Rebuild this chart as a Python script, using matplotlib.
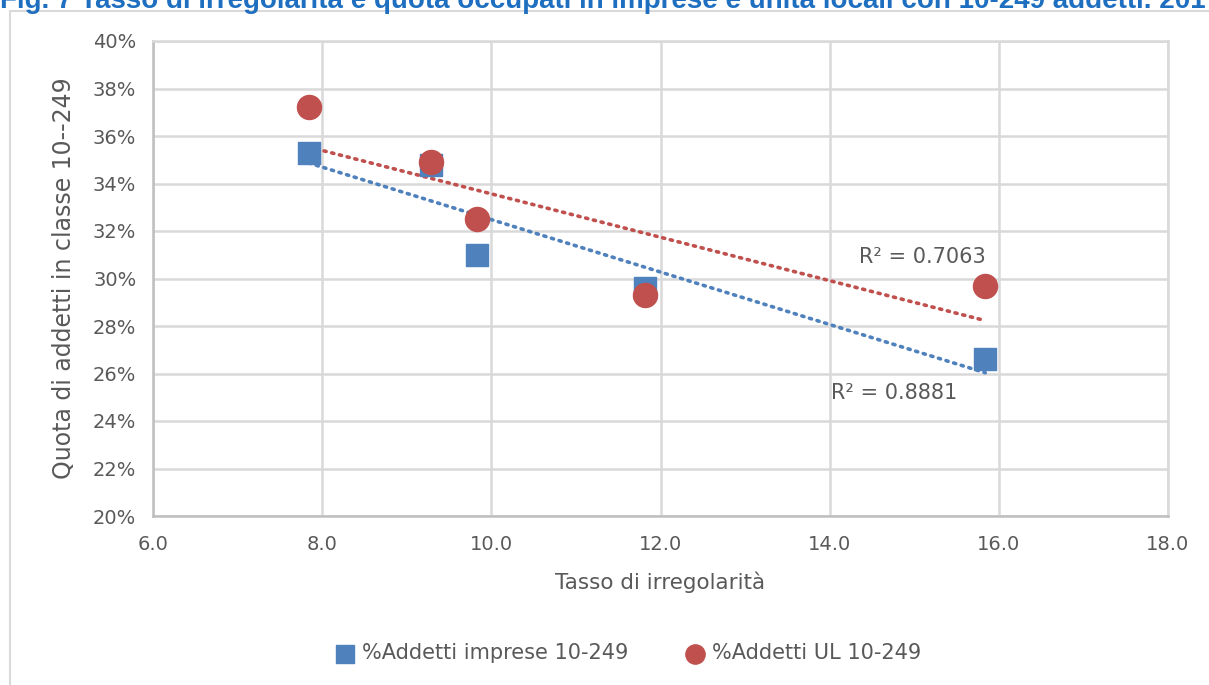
import matplotlib
matplotlib.use("Agg")
import matplotlib.pyplot as plt
import numpy as np
from matplotlib.patches import Rectangle
from matplotlib.ticker import FuncFormatter, MultipleLocator

# Data (x = tasso di irregolarità, y = quota %)
x_vals = [7.84, 9.29, 9.83, 11.82, 15.84]
imprese = [35.3, 34.8, 31.0, 29.6, 26.6]
ul = [37.2, 34.9, 32.5, 29.3, 29.7]
r2_labels = ["R² = 0.8881", "R² = 0.7063"]

blue = "#4F81BD"
red = "#C0504D"
txt = "#595959"
grid_c = "#D9D9D9"

plt.rcParams['font.family'] = ['DejaVu Sans']

fig = plt.figure(figsize=(12.09, 6.85), dpi=100)
ax = fig.add_axes([153 / 1209, 1 - 516 / 685, (1168 - 153) / 1209, (516 - 41) / 685])

# outer chart frame
fig.patches.append(Rectangle((10 / 1209, -0.05), 1.1, 1 - 11 / 685 + 0.05,
                             transform=fig.transFigure, fill=False,
                             edgecolor=grid_c, lw=1.5, zorder=0))

# title (cut at top in the original)
fig.text(0.0, 1 - 8 / 685, "Fig. 7 Tasso di irregolarità e quota occupati in imprese e unità locali con 10-249 addetti. 2017",
         fontsize=20, fontweight='bold', color="#1F6FC0", family=['Liberation Sans', 'DejaVu Sans'],
         ha='left', va='baseline')

# trend lines
xx = np.array(x_vals)
for ys, c in [(imprese, blue), (ul, red)]:
    p = np.polyfit(xx, ys, 1)
    xl = np.array([xx.min(), xx.max()])
    ax.plot(xl, np.polyval(p, xl), linestyle=(0, (0.6, 1.6)), color=c, lw=2.6,
            dash_capstyle='round', zorder=2)

ax.scatter(x_vals, imprese, marker='s', s=260, color=blue, zorder=3,
           label="%Addetti imprese 10-249")
ax.scatter(x_vals, ul, marker='o', s=300, color=red, zorder=4,
           label="%Addetti UL 10-249")

ax.text(15.51, 25.18, r2_labels[0], fontsize=15, color=txt, ha='right', va='center')
ax.text(15.85, 30.92, r2_labels[1], fontsize=15, color=txt, ha='right', va='center')

ax.set_xlim(6, 18)
ax.set_ylim(20, 40)
ax.xaxis.set_major_locator(MultipleLocator(2))
ax.yaxis.set_major_locator(MultipleLocator(2))
ax.xaxis.set_major_formatter(FuncFormatter(lambda v, _: f"{v:.1f}"))
ax.yaxis.set_major_formatter(FuncFormatter(lambda v, _: f"{v:.0f}%"))
ax.grid(True, color=grid_c, lw=1.8)
ax.set_axisbelow(True)
for s in ax.spines.values():
    s.set_color(grid_c)
    s.set_linewidth(1.8)
ax.spines['left'].set_color("#BFBFBF")
ax.spines['bottom'].set_color("#BFBFBF")
ax.tick_params(length=0, labelsize=14, labelcolor=txt, pad=12)
ax.tick_params(axis='x', pad=14)

ax.set_xlabel("Tasso di irregolarità", fontsize=15.5, color=txt, labelpad=12)
ax.set_ylabel("Quota di addetti in classe 10--249", fontsize=17, color=txt, labelpad=12)

ax.legend(loc='center', bbox_to_anchor=(0.515, (685 - 653) / 685), bbox_transform=fig.transFigure,
          ncol=2, frameon=False, fontsize=15, labelcolor=txt, markerscale=0.8,
          handletextpad=-0.2, columnspacing=2.2)

fig.savefig("out.png", dpi=100)
